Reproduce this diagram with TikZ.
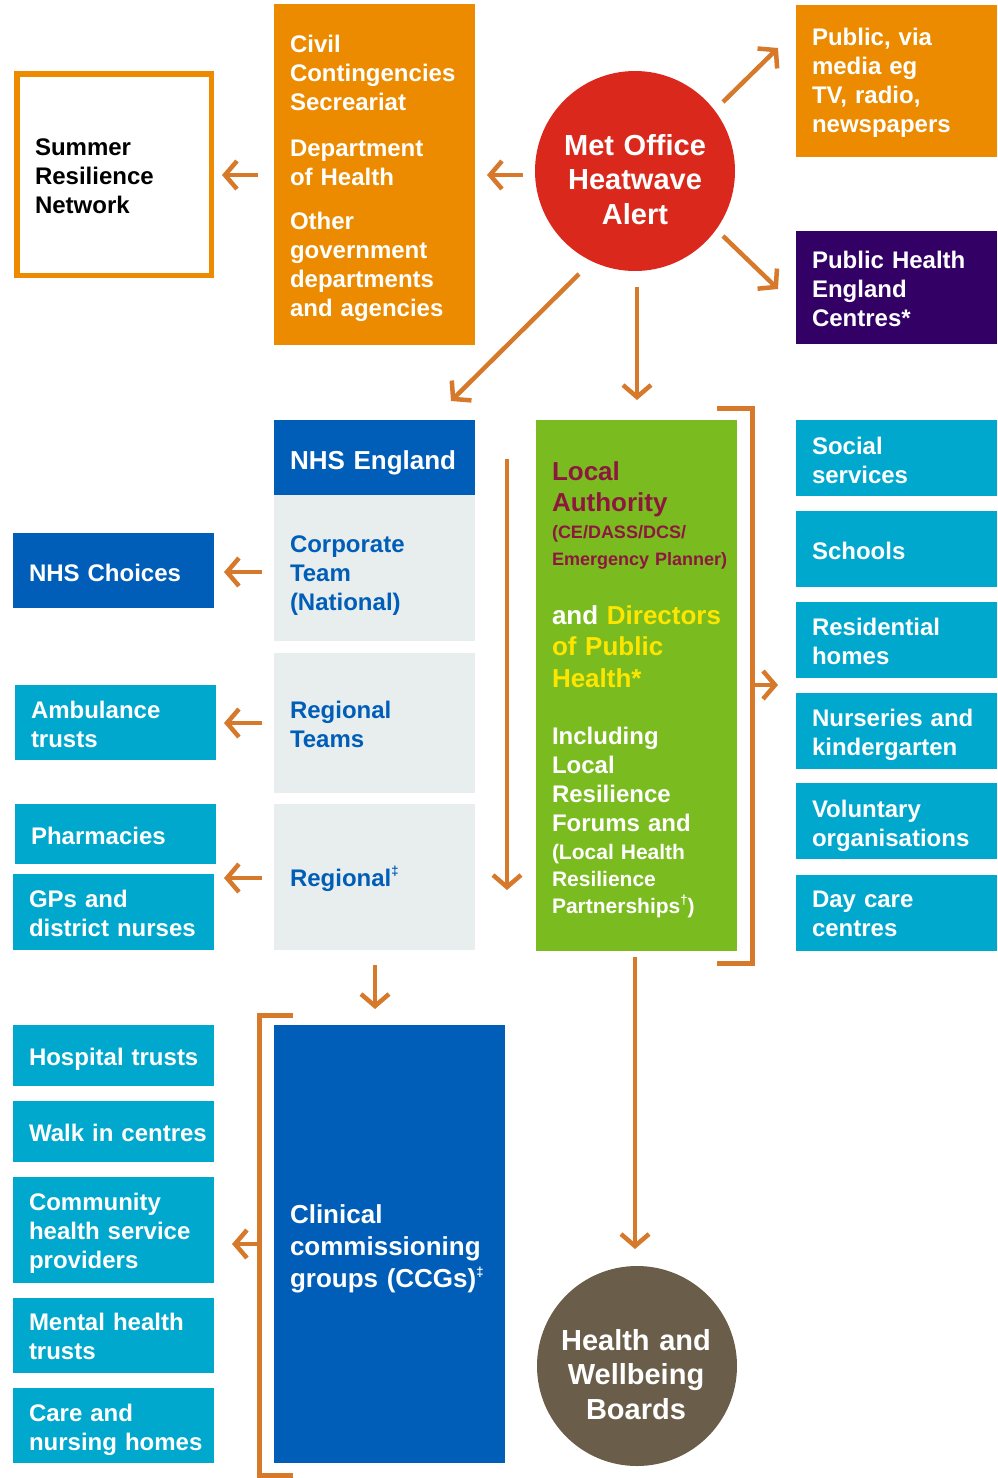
\documentclass[tikz,border=0pt]{standalone}
\usepackage{fontspec}
\setmainfont{Liberation Sans}
\usetikzlibrary{arrows.meta}

\definecolor{boxorange}{RGB}{236,139,0}
\definecolor{arrowc}{RGB}{214,121,42}
\definecolor{alertred}{RGB}{218,41,28}
\definecolor{phepurple}{RGB}{51,0,102}
\definecolor{nhsblue}{RGB}{0,94,184}
\definecolor{panelgrey}{RGB}{232,237,237}
\definecolor{lagreen}{RGB}{122,188,32}
\definecolor{svccyan}{RGB}{0,168,206}
\definecolor{hwbbrown}{RGB}{106,94,74}
\definecolor{lamaroon}{RGB}{140,24,62}
\definecolor{dphyellow}{RGB}{255,230,0}

\newcommand{\fsz}[2]{\fontsize{#1}{#2}\selectfont}
\newcommand{\supmark}[1]{\raisebox{0.42em}{\fontsize{13}{13}\selectfont #1}}

\tikzset{
  blk/.style={rectangle, inner sep=0pt, outer sep=0pt, anchor=north west, draw=none},
  txt/.style={anchor=base west, align=left, inner sep=0pt, outer sep=0pt,
              text width=230, font=\bfseries\fsz{24}{29}, text=white},
  ctxt/.style={anchor=base, align=center, inner sep=0pt, outer sep=0pt,
              text width=200, font=\bfseries\fsz{29}{34.5}, text=white},
  arr/.style={draw=arrowc, line width=4.5pt,
              -{Straight Barb[length=12pt, width=28pt]}},
  brk/.style={draw=arrowc, line width=5pt}
}

\begin{document}
\begin{tikzpicture}[x=1pt, y=-1pt]
\useasboundingbox (0,0) rectangle (997,1478);

% ---------- top row ----------
\node[blk, draw=boxorange, line width=5.5pt, fill=white,
      minimum width=194.5, minimum height=201.5] (srn) at (16.75,73.75) {};
\node[txt, text=black] (srnt) at (35,155) {Summer\\Resilience\\Network};

\node[blk, fill=boxorange, minimum width=201, minimum height=341] (ccs) at (274,4) {};
\node[txt] (ccst) at (290,52) {Civil\\Contingencies\\Secreariat\\[17pt]Department\\of Health\\[15pt]Other\\government\\departments\\and agencies};

\node[circle, fill=alertred, minimum size=200, inner sep=0pt] (met) at (635,171) {};
\node[ctxt] (mett) at (635,155) {Met Office\\Heatwave\\Alert};

\node[blk, fill=boxorange, minimum width=201, minimum height=152] (pub) at (796,5) {};
\node[txt] (pubt) at (812,45) {Public, via\\media eg\\TV, radio,\\newspapers};

\node[blk, fill=phepurple, minimum width=201, minimum height=113] (phe) at (796,231) {};
\node[txt] (phet) at (812,268) {Public Health\\England\\Centres*};

% ---------- NHS England column ----------
\node[blk, fill=nhsblue, minimum width=201, minimum height=75] (nhse) at (274,420) {};
\node[txt, font=\bfseries\fsz{26}{31}] (nhset) at (290,469) {NHS England};

\node[blk, fill=panelgrey, minimum width=201, minimum height=146] (corp) at (274,495) {};
\node[txt, text=nhsblue] (corpt) at (290,552) {Corporate\\Team\\(National)};

\node[blk, fill=panelgrey, minimum width=201, minimum height=140] (regt) at (274,653) {};
\node[txt, text=nhsblue] (regtt) at (290,718) {Regional\\Teams};

\node[blk, fill=panelgrey, minimum width=201, minimum height=146] (reg) at (274,804) {};
\node[txt, text=nhsblue] (regx) at (290,886) {Regional\supmark{‡}};

% ---------- left column (upper) ----------
\node[blk, fill=nhsblue, minimum width=201, minimum height=75] (choices) at (13,533) {};
\node[txt] (choicest) at (29,581) {NHS Choices};

\node[blk, fill=svccyan, minimum width=201, minimum height=75] (amb) at (15,685) {};
\node[txt] (ambt) at (31,718) {Ambulance\\trusts};

\node[blk, fill=svccyan, minimum width=201, minimum height=60] (pharm) at (15,804) {};
\node[txt] (pharmt) at (31,844) {Pharmacies};

\node[blk, fill=svccyan, minimum width=201, minimum height=76] (gps) at (13,874) {};
\node[txt] (gpst) at (29,907) {GPs and\\district nurses};

% ---------- local authority ----------
\node[blk, fill=lagreen, minimum width=201, minimum height=531] (la) at (536,420) {};
\node[txt, text=lamaroon, font=\bfseries\fsz{26}{31}] (la1) at (552,480) {Local\\Authority};
\node[txt, text=lamaroon, font=\bfseries\fsz{18}{27}] (la2) at (552,538) {(CE/DASS/DCS/\\Emergency Planner)};
\node[txt, text=dphyellow, font=\bfseries\fsz{26}{31.5}] (la3) at (552,624) {\textcolor{white}{and} Directors\\of Public\\Health*};
\node[txt] (la4) at (552,744) {Including\\Local\\Resilience\\Forums and};
\node[txt, font=\bfseries\fsz{21}{27}] (la5) at (552,859) {(Local Health\\Resilience\\Partnerships\supmark{†})};

% ---------- right column ----------
\node[blk, fill=svccyan, minimum width=201, minimum height=76] (soc) at (796,420) {};
\node[txt] (soct) at (812,454) {Social\\services};
\node[blk, fill=svccyan, minimum width=201, minimum height=76] (sch) at (796,511) {};
\node[txt] (scht) at (812,559) {Schools};
\node[blk, fill=svccyan, minimum width=201, minimum height=76] (res) at (796,602) {};
\node[txt] (rest) at (812,635) {Residential\\homes};
\node[blk, fill=svccyan, minimum width=201, minimum height=76] (nur) at (796,693) {};
\node[txt] (nurt) at (812,726) {Nurseries and\\kindergarten};
\node[blk, fill=svccyan, minimum width=201, minimum height=76] (vol) at (796,783) {};
\node[txt] (volt) at (812,817) {Voluntary\\organisations};
\node[blk, fill=svccyan, minimum width=201, minimum height=76] (day) at (796,875) {};
\node[txt] (dayt) at (812,907) {Day care\\centres};

% ---------- clinical commissioning groups ----------
\node[blk, fill=nhsblue, minimum width=231, minimum height=438] (ccg) at (274,1025) {};
\node[txt, font=\bfseries\fsz{26}{32}] (ccgt) at (290,1223) {Clinical\\commissioning\\groups (CCGs)\supmark{‡}};

\node[blk, fill=svccyan, minimum width=201, minimum height=61] (hosp) at (13,1025) {};
\node[txt] (hospt) at (29,1065) {Hospital trusts};
\node[blk, fill=svccyan, minimum width=201, minimum height=61] (walk) at (13,1101) {};
\node[txt] (walkt) at (29,1141) {Walk in centres};
\node[blk, fill=svccyan, minimum width=201, minimum height=106] (comm) at (13,1177) {};
\node[txt] (commt) at (29,1210) {Community\\health service\\providers};
\node[blk, fill=svccyan, minimum width=201, minimum height=75] (ment) at (13,1298) {};
\node[txt] (mentt) at (29,1330) {Mental health\\trusts};
\node[blk, fill=svccyan, minimum width=201, minimum height=75] (care) at (13,1388) {};
\node[txt] (caret) at (29,1421) {Care and\\nursing homes};

% ---------- health and wellbeing boards ----------
\node[circle, fill=hwbbrown, minimum size=200, inner sep=0pt] (hwb) at (637,1366) {};
\node[ctxt] (hwbt) at (636,1350) {Health and\\Wellbeing\\Boards};

% ---------- brackets ----------
\draw[brk] (717,408) -- (752,408) -- (752,963) -- (717,963);
\draw[brk] (293,1015.5) -- (259.5,1015.5) -- (259.5,1475.5) -- (293,1475.5);

% ---------- connector end points ----------
\coordinate (c1s) at (258,175);   \coordinate (c1e) at (222,175);
\coordinate (c2s) at (523,175);   \coordinate (c2e) at (487,175);
\coordinate (c3s) at (723,102);   \coordinate (c3e) at (778,48);
\coordinate (c4s) at (723,236);   \coordinate (c4e) at (778,289);
\coordinate (c5s) at (637,287);   \coordinate (c5e) at (637,400);
\coordinate (c6s) at (579,274);   \coordinate (c6e) at (451,401);
\coordinate (c7s) at (262,572);   \coordinate (c7e) at (224,572);
\coordinate (c8s) at (262,723);   \coordinate (c8e) at (224,723);
\coordinate (c9s) at (262,878);   \coordinate (c9e) at (224,878);
\coordinate (c10s) at (375,965);  \coordinate (c10e) at (375,1009);
\coordinate (c11s) at (259.5,1244); \coordinate (c11e) at (232,1244);
\coordinate (c12s) at (507,459);  \coordinate (c12e) at (507,890);
\coordinate (c13s) at (752,685);  \coordinate (c13e) at (778,685);
\coordinate (c14s) at (635,957);  \coordinate (c14e) at (635,1249);

% ---------- connectors ----------
\foreach \i in {1,...,14} {
  \draw[arr] (c\i s) -- (c\i e);
}
\end{tikzpicture}
\end{document}
